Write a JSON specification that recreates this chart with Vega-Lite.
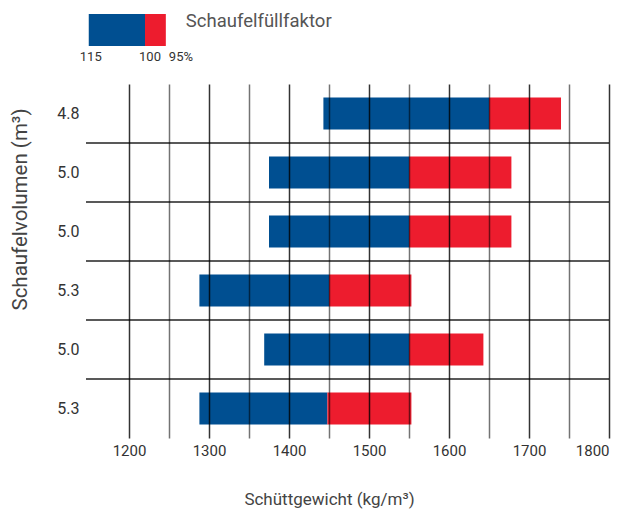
{
  "$schema": "https://vega.github.io/schema/vega-lite/v6.json",
  "padding": {"left": 9, "top": 12, "right": 5, "bottom": 5},
  "background": "white",
  "config": {"view": {"stroke": null}, "font": "Roboto", "concat": {"spacing": 20}},
  "datasets": {
    "legend": [
      {"row": "Schaufelfüllfaktor", "seg": "115–100", "from": 115, "to": 100},
      {"row": "Schaufelfüllfaktor", "seg": "100–95", "from": 100, "to": 95}
    ],
    "legendStart": [{"label": "115", "pos": 115}],
    "legendMid": [{"label": "100", "pos": 100}],
    "legendEnd": [{"label": "95%", "pos": 95}],
    "legendTitle": [{"label": "Schaufelfüllfaktor", "pos": 95}],
    "rows": [
      {"id": 1, "vol": "4.8", "b115": 1443, "b100": 1650, "b95": 1740},
      {"id": 2, "vol": "5.0", "b115": 1375, "b100": 1550, "b95": 1678},
      {"id": 3, "vol": "5.0", "b115": 1375, "b100": 1550, "b95": 1678},
      {"id": 4, "vol": "5.3", "b115": 1288, "b100": 1450, "b95": 1553},
      {"id": 5, "vol": "5.0", "b115": 1369, "b100": 1550, "b95": 1643},
      {"id": 6, "vol": "5.3", "b115": 1288, "b100": 1448, "b95": 1553}
    ]
  },
  "vconcat": [
    {
      "width": 523,
      "height": 32,
      "layer": [
        {
          "data": {"name": "legend"},
          "mark": {"type": "bar", "orient": "horizontal"},
          "encoding": {
            "y": {"field": "row", "type": "nominal", "scale": {"paddingInner": 0, "paddingOuter": 0}, "axis": null},
            "x": {"field": "from", "type": "quantitative", "scale": {"domain": [115, 100, 95], "range": [-1, 59, 84]}, "axis": null},
            "x2": {"field": "to"},
            "color": {"field": "seg", "type": "nominal", "scale": {"domain": ["115–100", "100–95"], "range": ["#004f91", "#ed1c2e"]}, "legend": null}
          }
        },
        {
          "data": {"name": "legendStart"},
          "mark": {"type": "text", "align": "center", "dx": 2, "dy": 27, "fontSize": 13, "color": "#333"},
          "encoding": {
            "x": {"field": "pos", "type": "quantitative"},
            "text": {"field": "label"}
          }
        },
        {
          "data": {"name": "legendMid"},
          "mark": {"type": "text", "align": "center", "dx": 5, "dy": 27, "fontSize": 13, "color": "#333"},
          "encoding": {
            "x": {"field": "pos", "type": "quantitative"},
            "text": {"field": "label"}
          }
        },
        {
          "data": {"name": "legendEnd"},
          "mark": {"type": "text", "align": "left", "dx": 3, "dy": 27, "fontSize": 13, "color": "#333"},
          "encoding": {
            "x": {"field": "pos", "type": "quantitative"},
            "text": {"field": "label"}
          }
        },
        {
          "data": {"name": "legendTitle"},
          "mark": {"type": "text", "align": "left", "dx": 20, "dy": -9, "fontSize": 18.5, "color": "#555"},
          "encoding": {
            "x": {"field": "pos", "type": "quantitative"},
            "text": {"field": "label"}
          }
        }
      ]
    },
    {
      "width": 523,
      "height": 354,
      "data": {"name": "rows"},
      "layer": [
        {
          "mark": {"type": "bar", "height": 32, "color": "#004f91"},
          "encoding": {
            "y": {
              "field": "id", "type": "ordinal",
              "scale": {"paddingInner": 0, "paddingOuter": 0},
              "axis": {
                "title": "Schaufelvolumen (m³)",
                "labelExpr": "['','4.8','5.0','5.0','5.3','5.0','5.3'][datum.value]",
                "ticks": false, "domain": false, "grid": false,
                "labelPadding": 7, "labelFontSize": 16, "labelColor": "#333",
                "titleFontSize": 20.5, "titleFontWeight": "normal", "titleColor": "#444",
                "titleX": -66, "titleY": 125, "titleBaseline": "middle", "titleAlign": "center", "titleAngle": -90
              }
            },
            "x": {
              "field": "b115", "type": "quantitative",
              "scale": {"domain": [1146.25, 1800], "nice": false, "zero": false},
              "axis": {
                "title": "Schüttgewicht (kg/m³)",
                "values": [1200, 1250, 1300, 1350, 1400, 1450, 1500, 1550, 1600, 1650, 1700, 1750, 1800],
                "labelExpr": "datum.value % 100 === 0 ? datum.label : ''",
                "format": "d",
                "ticks": false, "domain": false, "grid": true,
                "gridColor": "#000",
                "gridWidth": 1.5,
                "gridOpacity": {"condition": {"test": "datum.value % 100 === 0", "value": 0.8}, "value": 0.55},
                "labelPadding": 5, "labelFontSize": 15, "labelColor": "#333",
                "titleFontSize": 17, "titleFontWeight": "normal", "titleColor": "#444",
                "titleX": 243, "titleY": 61, "titleBaseline": "middle", "titleAlign": "center",
                "zindex": 1
              }
            },
            "x2": {"field": "b100"}
          }
        },
        {
          "mark": {"type": "bar", "height": 32, "color": "#ed1c2e"},
          "encoding": {
            "y": {"field": "id", "type": "ordinal"},
            "x": {"field": "b100", "type": "quantitative"},
            "x2": {"field": "b95"}
          }
        },
        {
          "transform": [{"filter": "datum.id > 1"}],
          "mark": {"type": "rule", "color": "#222", "strokeWidth": 1.5},
          "encoding": {
            "y": {"field": "id", "type": "ordinal", "bandPosition": 0}
          }
        }
      ]
    }
  ]
}
